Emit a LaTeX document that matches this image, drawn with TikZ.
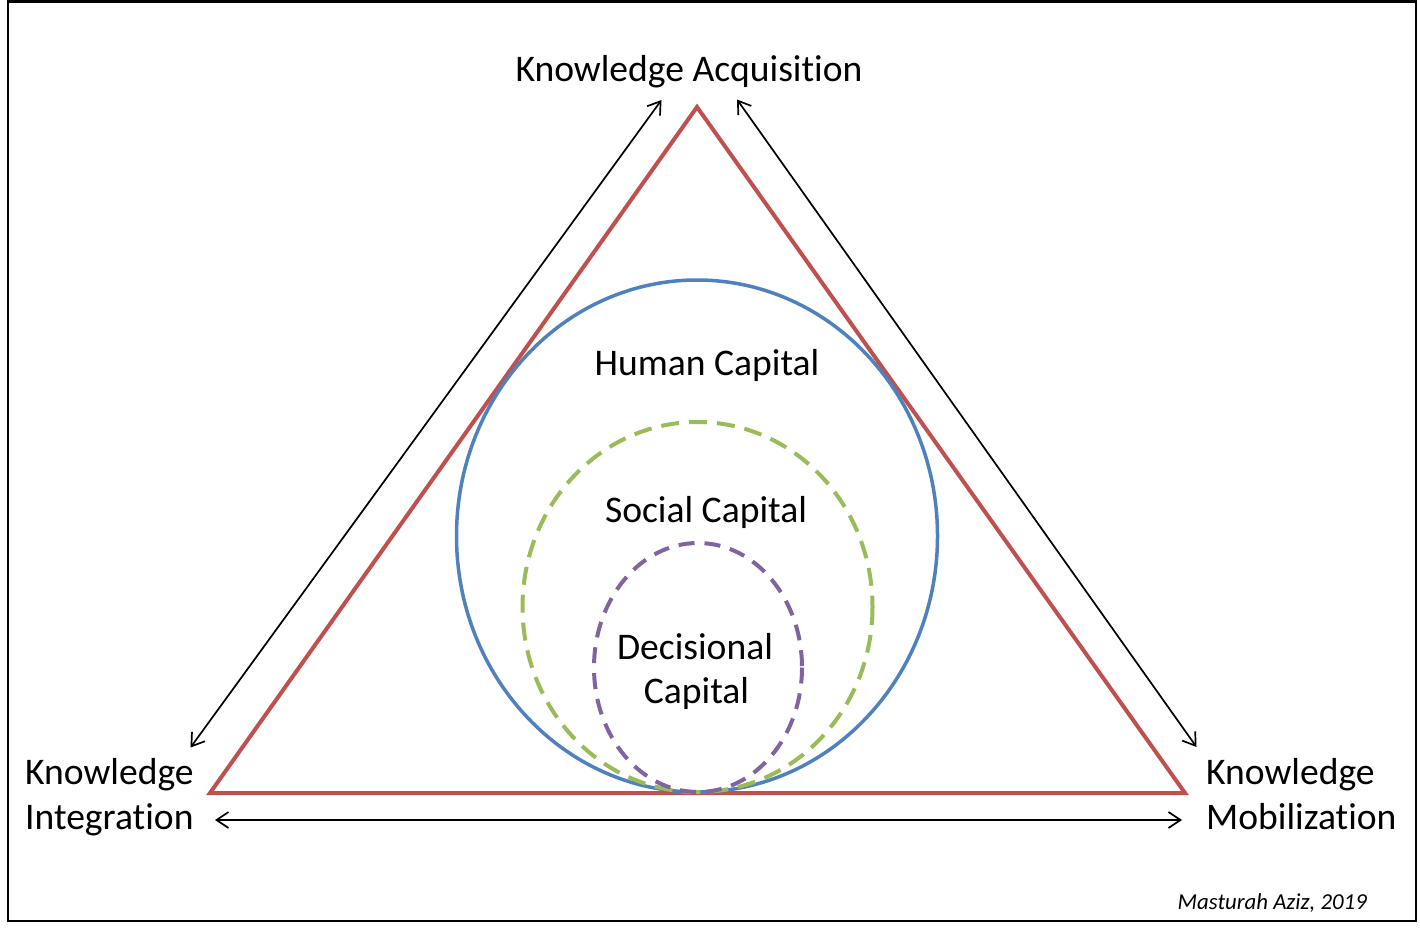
\documentclass[tikz,border=0pt]{standalone}
\usepackage{fontspec}
\setmainfont{Carlito}[Ligatures={NoCommon,NoRare}]
\usetikzlibrary{arrows.meta}
\definecolor{tri}{HTML}{C0504D}
\definecolor{hum}{HTML}{4F81BD}
\definecolor{soc}{HTML}{9BBB59}
\definecolor{dec}{HTML}{8064A2}
\tikzset{
  lbl/.style={inner sep=0pt, font=\fontsize{37.6}{45}\selectfont},
  sidelbl/.style={lbl, anchor=base west},
  arr/.style={line width=1.7pt, {Straight Barb[length=12pt,width=16pt]}-{Straight Barb[length=12pt,width=16pt]}},
}
\begin{document}
\begin{tikzpicture}[x=1pt,y=-1pt]
\useasboundingbox (0,0) rectangle (1420,931);
\draw[line width=2.5pt] (8,1.5) rectangle (1416,921);
% triangle
\coordinate (A) at (697,107);
\coordinate (L) at (210,793);
\coordinate (R) at (1185,793);
\draw[tri, line width=4pt, miter limit=20] (A) -- (R) -- (L) -- cycle;
% circles
\draw[hum, line width=3.5pt] (697,536) ellipse [x radius=240.5, y radius=256];
\draw[soc, line width=4pt, dash pattern=on 18pt off 10pt] (697.5,607) ellipse [x radius=175, y radius=185];
\draw[dec, line width=4pt, dash pattern=on 16pt off 10pt] (698,667.5) ellipse [x radius=104, y radius=124.5];
% labels
\node[lbl, anchor=base] (ka) at (689,82) {Knowledge Acquisition};
\node[lbl, anchor=base] (hc) at (707,375) {Human Capital};
\node[lbl, anchor=base] (sc) at (706,522) {Social Capital};
\node[lbl, anchor=base] (dc1) at (695,659) {Decisional};
\node[lbl, anchor=base] (dc2) at (696.5,703) {Capital};
\node[sidelbl] (ki1) at (25,784) {Knowledge};
\node[sidelbl] (ki2) at (25,829) {Integration};
\node[sidelbl] (km1) at (1206,784) {Knowledge};
\node[sidelbl] (km2) at (1206,829) {Mobilization};
\node[inner sep=0pt, anchor=base east, font=\fontsize{22.8}{27}\selectfont\itshape] (au) at (1367,909) {Masturah Aziz, 2019};
% arrow end points
\coordinate (a1) at (661.5,100);
\coordinate (a2) at (190.5,747.5);
\coordinate (b1) at (737,99.5);
\coordinate (b2) at (1196.5,747);
\coordinate (c1) at (215,820);
\coordinate (c2) at (1182,820);
\draw[arr] (a2) -- (a1);
\draw[arr] (b1) -- (b2);
\draw[arr] (c1) -- (c2);
\end{tikzpicture}
\end{document}
